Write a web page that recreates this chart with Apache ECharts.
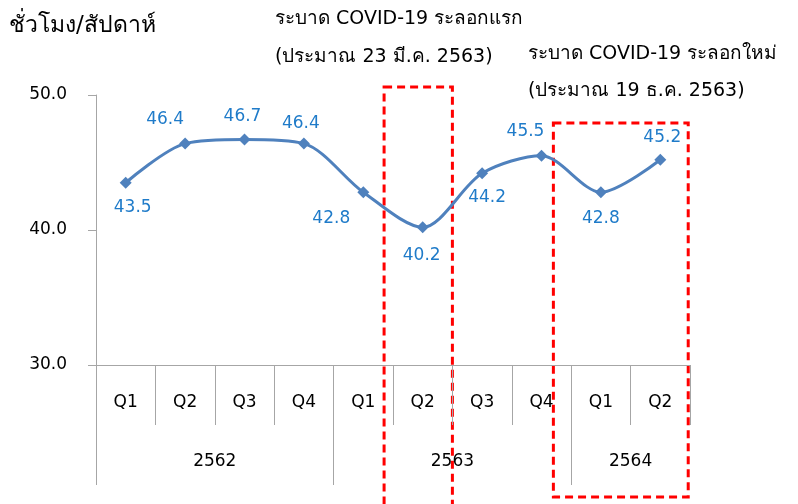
<!DOCTYPE html>
<html>
<head>
<meta charset="utf-8">
<script src="https://cdn.jsdelivr.net/npm/echarts@6/dist/echarts.min.js"></script>
<style>
  html, body { margin: 0; padding: 0; background: #fff; }
  #chart { width: 798px; height: 504px; }
</style>
</head>
<body>
<div id="chart"></div>
<script>
const quarters = ["Q1", "Q2", "Q3", "Q4", "Q1", "Q2", "Q3", "Q4", "Q1", "Q2"];
const hours = [43.5, 46.4, 46.7, 46.4, 42.8, 40.2, 44.2, 45.5, 42.8, 45.2];
const years = ["2562", "2563", "2564"];
const yearStart = [0, 4, 8, 10]; // boundaries, in quarters
const yTicks = [30, 40, 50];
const unitLabel = "ชั่วโมง/สัปดาห์";
const wave1 = ["ระบาด COVID-19 ระลอกแรก", "(ประมาณ 23 มี.ค. 2563)"];
const wave2 = ["ระบาด COVID-19 ระลอกใหม่", "(ประมาณ 19 ธ.ค. 2563)"];

const font = "Tahoma, 'DejaVu Sans', 'Noto Sans', sans-serif";
const axisGray = "#a6a6a6";

// label placement per point
const labelPos = [
  { position: "bottom", offset: [7, 2] },
  { position: "top", offset: [-20, -2] },
  { position: "top", offset: [-2, 0] },
  { position: "top", offset: [-3, 2] },
  { position: "bottom", offset: [-32, 4] },
  { position: "bottom", offset: [-1, 6] },
  { position: "bottom", offset: [5, 2] },
  { position: "top", offset: [-16, -2] },
  { position: "bottom", offset: [0, 4] },
  { position: "top", offset: [2, 0] },
];

const yearCenters = years.map((y, i) => (yearStart[i] + yearStart[i + 1]) / 2);

const chart = echarts.init(document.getElementById("chart"));

chart.setOption({
  animation: false,
  textStyle: { fontFamily: font },
  grid: { left: 96, right: 108, top: 95, bottom: 139 },
  xAxis: [
    {
      type: "category",
      data: quarters,
      boundaryGap: true,
      axisLine: { lineStyle: { color: axisGray, width: 1 } },
      axisTick: { show: true, length: 60, interval: 0, lineStyle: { color: axisGray } },
      axisLabel: { interval: 0, margin: 29, color: "#000", fontSize: 17, fontFamily: font },
    },
    {
      type: "value",
      position: "bottom",
      min: 0,
      max: 10,
      axisLine: { show: false },
      splitLine: { show: false },
      axisTick: {
        show: true,
        length: 120,
        customValues: yearStart.slice(0, -1),
        lineStyle: { color: axisGray },
      },
      axisLabel: {
        customValues: yearCenters,
        margin: 88,
        color: "#000",
        fontSize: 17,
        fontFamily: font,
        formatter: (v) => years[yearCenters.indexOf(v)],
      },
    },
  ],
  yAxis: {
    type: "value",
    min: yTicks[0],
    max: yTicks[yTicks.length - 1],
    interval: 10,
    axisLine: { show: true, lineStyle: { color: axisGray } },
    axisTick: { show: true, length: 8, lineStyle: { color: axisGray } },
    splitLine: { show: false },
    axisLabel: {
      margin: 29,
      color: "#000",
      fontSize: 17,
      fontFamily: font,
      formatter: (v) => v.toFixed(1),
    },
  },
  series: [
    {
      type: "line",
      xAxisIndex: 0,
      data: hours.map((v, i) => ({ value: v, label: labelPos[i] })),
      smooth: 0.3,
      symbol: "diamond",
      symbolSize: 12,
      lineStyle: { color: "#4f81bd", width: 3 },
      itemStyle: { color: "#4f81bd" },
      label: {
        show: true,
        color: "#1f7bc9",
        fontSize: 17,
        fontFamily: font,
        distance: 8,
        formatter: (p) => p.value.toFixed(1),
      },
    },
  ],
});

// dashed boxes around the two outbreak periods, placed on the quarter scale
function box(x0, x1, top, bottom) {
  const a = chart.convertToPixel({ xAxisIndex: 1 }, x0);
  const b = chart.convertToPixel({ xAxisIndex: 1 }, x1);
  return {
    type: "rect",
    shape: { x: a, y: top, width: b - a, height: bottom - top },
    style: { fill: "none", stroke: "#ff0000", lineWidth: 3, lineDash: [8, 5] },
  };
}

const txt = (s, x, y, size, weight) => ({
  type: "text",
  left: x,
  top: y,
  style: { text: s, font: (weight || "normal") + " " + size + "px " + font, fill: "#000" },
});

chart.setOption({
  graphic: [
    box(4.85, 6.0, 87, 520),
    box(7.7, 9.97, 123, 497),
    txt(unitLabel, 9, 15, 23),
    txt(wave1[0], 275, 10, 19),
    txt(wave1[1], 275, 48, 19),
    txt(wave2[0], 528, 45, 19),
    txt(wave2[1], 528, 82, 19),
  ],
});
</script>
</body>
</html>
